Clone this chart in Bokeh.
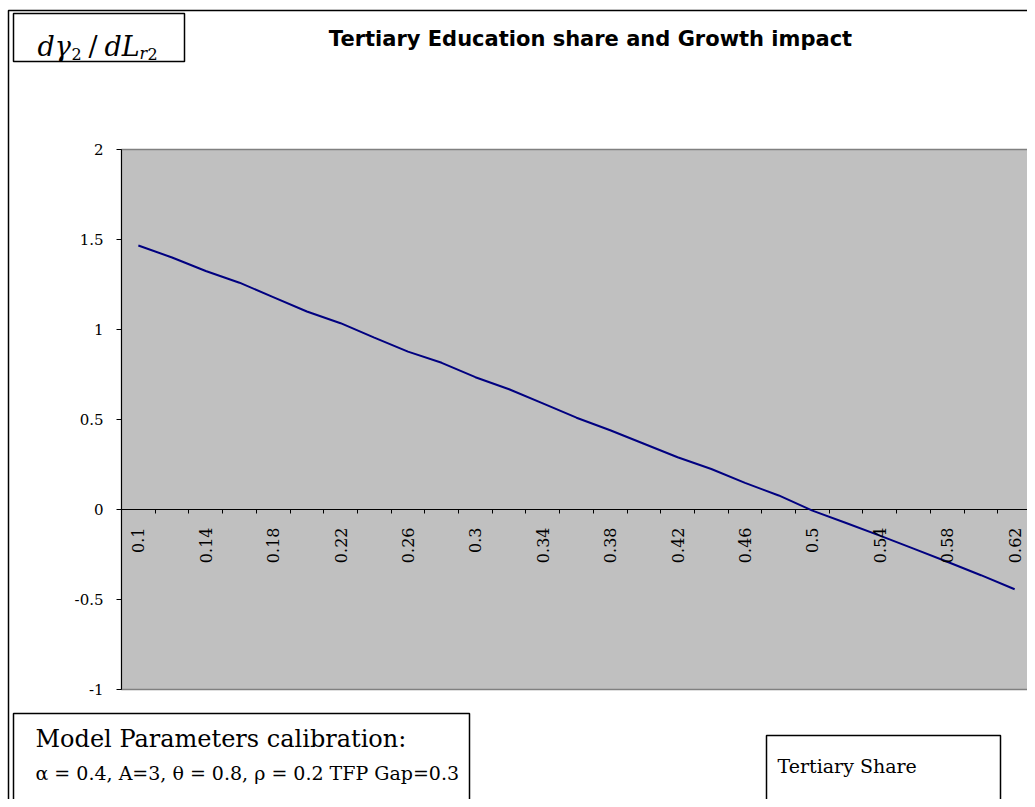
import math
from bokeh.plotting import figure
from bokeh.models import FixedTicker, LinearAxis, Range1d
from bokeh.core.properties import value
from bokeh.embed import file_html
from bokeh.resources import INLINE

# ---------------- data ----------------
tertiary_share = [0.10, 0.12, 0.14, 0.16, 0.18, 0.20, 0.22, 0.24, 0.26, 0.28,
                  0.30, 0.32, 0.34, 0.36, 0.38, 0.40, 0.42, 0.44, 0.46, 0.48,
                  0.50, 0.52, 0.54, 0.56, 0.58, 0.60, 0.62]
growth_impact = [1.467, 1.400, 1.325, 1.260, 1.180, 1.100, 1.035, 0.955, 0.877, 0.815,
                 0.735, 0.668, 0.590, 0.510, 0.440, 0.365, 0.290, 0.225, 0.148, 0.078,
                 -0.006, -0.075, -0.145, -0.217, -0.290, -0.365, -0.443]
x_tick_labels = ["0.1", "0.14", "0.18", "0.22", "0.26", "0.3", "0.34",
                 "0.38", "0.42", "0.46", "0.5", "0.54", "0.58", "0.62"]
y_ticks = [-1, -0.5, 0, 0.5, 1, 1.5, 2]
y_tick_labels = ["-1", "-0.5", "0", "0.5", "1", "1.5", "2"]

title_text = "Tertiary Education share and Growth impact"
params_line1 = "Model Parameters calibration:"
params_line2 = "\u03b1 = 0.4, A=3, \u03b8 = 0.8,  \u03c1 = 0.2  TFP Gap=0.3"
x_title = "Tertiary Share"

# ---------------- geometry (pixels) ----------------
W, H = 1027, 799
PA_L, PA_R, PA_T, PA_B = 121, 1031, 149, 689
n = len(tertiary_share)
sx = (PA_R - PA_L) / n
sy = (PA_B - PA_T) / (y_ticks[-1] - y_ticks[0])


def X(px):
    return -0.5 + (px - PA_L) / sx


def Y(py):
    return y_ticks[-1] - (py - PA_T) / sy


p = figure(width=W, height=H,
           x_range=Range1d(X(0), X(W)), y_range=Range1d(Y(H), Y(0)),
           min_border=0, toolbar_location=None, output_backend="svg",
           x_axis_type=None, y_axis_type=None)
p.outline_line_color = None
p.background_fill_color = "white"
p.border_fill_color = "white"

xs = list(range(n))

# plot area
p.quad(left=[-0.5], right=[n - 0.5], bottom=[y_ticks[0]], top=[y_ticks[-1]],
       fill_color="#C0C0C0", line_color="#808080", line_width=1.5)
# axis lines
p.segment(x0=[-0.5], y0=[y_ticks[0]], x1=[-0.5], y1=[y_ticks[-1]],
          line_color="black", line_width=1)
p.segment(x0=[-0.5], y0=[0], x1=[n - 0.5], y1=[0],
          line_color="black", line_width=1)

# data line
p.line(x=xs, y=growth_impact, line_color="#000080", line_width=2)

# x axis (category axis crossing at 0)
label_pos = [float(i) for i in range(0, n, 2)]
xaxis = LinearAxis(
    ticker=FixedTicker(ticks=label_pos, minor_ticks=[i - 0.5 for i in range(n + 1)]),
    fixed_location=0,
    axis_line_color=None,
    major_tick_line_color=None,
    minor_tick_line_color="black", minor_tick_in=0, minor_tick_out=4,
    major_label_overrides={pos: lab for pos, lab in zip(label_pos, x_tick_labels)},
    major_label_orientation=math.pi / 2,
    major_label_standoff=12,
    major_label_text_font="DejaVu Serif",
    major_label_text_font_size="16px",
    major_label_text_color="black",
)
p.add_layout(xaxis, "below")

# y axis
yaxis = LinearAxis(
    ticker=FixedTicker(ticks=[float(t) for t in y_ticks], minor_ticks=[]),
    fixed_location=-0.5,
    axis_line_color=None,
    major_tick_line_color="black", major_tick_in=0, major_tick_out=5,
    minor_tick_line_color=None,
    major_label_overrides={float(t): lab for t, lab in zip(y_ticks, y_tick_labels)},
    major_label_standoff=13,
    major_label_text_font="DejaVu Serif",
    major_label_text_font_size="15px",
    major_label_text_color="black",
)
p.add_layout(yaxis, "left")

# frames / boxes
box_kw = dict(fill_color=None, line_color="black", line_width=1.5)
p.quad(left=[X(8)], right=[X(1033)], top=[Y(10)], bottom=[Y(900)], **box_kw)
p.quad(left=[X(13)], right=[X(184)], top=[Y(13)], bottom=[Y(61)], **box_kw)
p.quad(left=[X(13)], right=[X(469)], top=[Y(713)], bottom=[Y(900)], **box_kw)
p.quad(left=[X(766)], right=[X(1000)], top=[Y(735)], bottom=[Y(900)], **box_kw)

# title
p.text(x=[X(590)], y=[Y(38)], text=[title_text],
       text_font=value("DejaVu Sans"), text_font_style="bold",
       text_font_size="21px", text_align="center", text_baseline="middle",
       text_color="black")

# d gamma_2 / d L_r2 label (pieces for sub-scripts)
ax0, base = X(37), Y(46)
pieces = [
    ("d\u03b3", 0, 0, "27px", "italic"),
    ("2", 34, 7, "16px", "normal"),
    ("/", 51, 0, "27px", "normal"),
    ("dL", 67, 0, "27px", "italic"),
    ("r", 102, 7, "16px", "italic"),
    ("2", 110, 7, "16px", "normal"),
]
for txt, dx, dy, fs, style in pieces:
    p.text(x=[ax0], y=[base], text=[txt], x_offset=dx, y_offset=dy,
           text_font=value("DejaVu Serif"), text_font_style=style,
           text_font_size=fs, text_align="left", text_baseline="alphabetic",
           text_color="black")

# parameter box
p.text(x=[X(35)], y=[Y(738)], text=[params_line1],
       text_font=value("DejaVu Serif"), text_font_size="24px",
       text_align="left", text_baseline="middle", text_color="black")
p.text(x=[X(35)], y=[Y(772)], text=[params_line2],
       text_font=value("DejaVu Serif"), text_font_size="19px",
       text_align="left", text_baseline="middle", text_color="black")

# axis title box
p.text(x=[X(777)], y=[Y(765)], text=[x_title],
       text_font=value("DejaVu Serif"), text_font_size="19px",
       text_align="left", text_baseline="middle", text_color="black")

open("out.html", "w").write(file_html(p, INLINE))
